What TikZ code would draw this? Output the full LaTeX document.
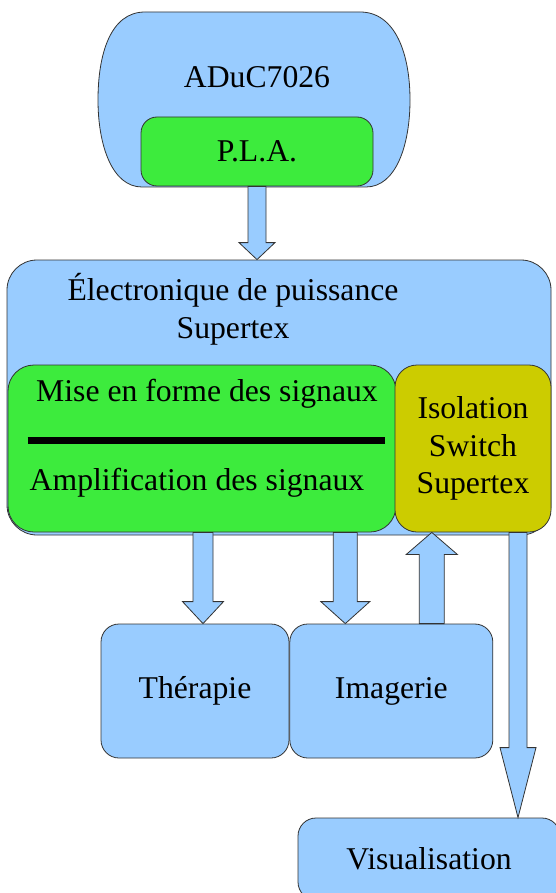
\documentclass[tikz,border=0pt]{standalone}
\usepackage{fontspec}
\setmainfont{Liberation Serif}
\usetikzlibrary{positioning,calc}

\definecolor{bleu}{HTML}{99CCFF}
\definecolor{vert}{HTML}{3DEB3D}
\definecolor{jaune}{HTML}{CCCC00}

% block arrow: x of #1, from y of #1 to y of #2
\newcommand{\blockarrow}[5]{%
  \draw[blockarrow] let \p1=#1, \p2=#2, \p3=($(\x1,\y2)!#5pt!(\x1,\y1)$) in
    (\x1-#3pt,\y1) -- (\x1-#3pt,\y3) -- (\x1-#4pt,\y3) -- (\x1,\y2)
    -- (\x1+#4pt,\y3) -- (\x1+#3pt,\y3) -- (\x1+#3pt,\y1) -- cycle;}

\begin{document}
\begin{tikzpicture}[x=1pt,y=1pt,
  txt/.style={font=\fontsize{31.7}{37.5}\selectfont,align=center,inner sep=0pt},
  box/.style={txt,rectangle,draw=black!80,line width=0.8pt,fill=bleu,rounded corners=18pt},
  blockarrow/.style={draw=black!80,line width=0.8pt,fill=bleu,line join=miter}]
  \useasboundingbox (0,0) rectangle (556,-893);
  \clip (0,0) rectangle (556,-893);

  % microcontroller
  \draw[fill=bleu,draw=black!80,line width=0.8pt] (145,-12) -- (360,-12)
    .. controls (396,-12) and (410,-55) .. (410,-100)
    .. controls (410,-145) and (396,-187) .. (366,-187) -- (142,-187)
    .. controls (112,-187) and (98,-145) .. (98,-100)
    .. controls (98,-55) and (110,-12) .. (145,-12) -- cycle;
  \node[txt] (aduc) at (257,-77) {ADuC7026};
  \node[box,fill=vert,minimum width=232pt,minimum height=69pt,rounded corners=16pt] (pla) at (257,-151.5) {P.L.A.};

  % power electronics
  \node[box,minimum width=544pt,minimum height=275pt,rounded corners=30pt] (elec) at (279,-397.5) {};
  \node[txt] (electxt) at (233,-309.5) {Électronique de puissance\\Supertex};
  \node[box,fill=vert,minimum width=388pt,minimum height=167pt,rounded corners=26pt] (mise) at (202,-448.5) {};
  \node[txt] (misetxt) at (207,-394) {Mise en forme des signaux};
  \node[txt] (ampli) at (197,-483) {Amplification des signaux};
  \draw[line width=7pt] ($(mise.west)+(20,8.5)$) -- ($(mise.east)+(-11,8.5)$);
  \node[box,fill=jaune,minimum width=156pt,minimum height=167pt,rounded corners=22pt] (iso) at (473,-448.5) {Isolation\\Switch\\Supertex};

  % outputs
  \node[box,minimum width=188pt,minimum height=134pt] (ther) at (195,-691) {Thérapie};
  \node[box,minimum width=203pt,minimum height=134pt] (imag) [right=0pt of ther] {Imagerie};
  \node[box,minimum width=262pt,minimum height=82pt] (vis) at (429,-859) {Visualisation};

  \blockarrow{(pla.south)}{(elec.north)}{9}{18}{17}
  \blockarrow{($(mise.south -| ther.north)+(8,0)$)}{(ther.north)}{10}{20.5}{22}
  \blockarrow{($(mise.south -| imag.north)+(-46,0)$)}{(imag.north)}{12}{24.5}{22}
  \blockarrow{($(imag.north)+(40.5,0)$)}{(iso.south)}{12.5}{25.5}{22}
  \blockarrow{($(iso.south)+(45,0)$)}{(vis.north)}{9}{18}{70}
\end{tikzpicture}
\end{document}
